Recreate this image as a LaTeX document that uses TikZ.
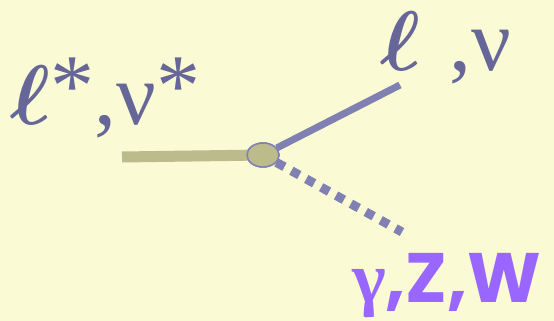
\documentclass[tikz,border=0pt]{standalone}
\usepackage{fontspec}
\usepackage{tikz}
\usetikzlibrary{shapes.geometric, positioning}

\definecolor{bgpale}{RGB}{250,250,212}
\definecolor{labblue}{RGB}{102,102,153}
\definecolor{lineblue}{RGB}{128,128,178}
\definecolor{olive}{RGB}{187,187,140}
\definecolor{bosonpurple}{RGB}{153,102,255}
\newfontfamily\partfont{Liberation Serif}
\newfontfamily\bosonfont{Poppins}
\newcommand{\bigell}{\scalebox{3.4}{\Huge\boldmath$\ell$}}
\newcommand{\upstar}{\raisebox{9pt}{*}}

\begin{document}
\begin{tikzpicture}[
  x=1pt, y=1pt,
  lep/.style={font=\fontsize{88}{88}\selectfont\partfont, text=labblue, inner sep=0pt},
  boson/.style={font=\fontsize{70}{70}\selectfont\bosonfont\bfseries, text=bosonpurple, inner sep=0pt},
  vtx/.style={ellipse, draw=lineblue, line width=1.5pt, fill=olive,
              minimum width=32pt, minimum height=24pt, inner sep=0pt},
  heavy/.style={draw=olive, line width=11pt},
  light/.style={draw=lineblue, line width=7pt},
  gauge/.style={draw=lineblue, line width=9pt, dash pattern=on 9pt off 8pt},
]
\fill[bgpale] (0,0) rectangle (554,321);
\useasboundingbox (0,0) rectangle (554,321);

% vertex and line ends
\node[vtx] (vertex) at (263,166) {};
\coordinate (in)   at (122,164);
\coordinate (lout) at (400,236);
\coordinate (bout) at (402,89);

% lines
\draw[heavy] (in) -- (vertex.center);
\draw[light] (vertex) -- (lout);
\draw[gauge] (vertex) -- (bout);
\node[vtx] at (vertex) {};

% labels
\node[lep, anchor=base west] (instate) at (10,196) {\bigell\upstar,ν\upstar};
\node[lep, anchor=base west] (outlep) at (380,250) {\bigell\hspace{29pt},ν};
\node[boson, anchor=base west] (outbos) at (352,18) {{\fontsize{72}{72}\selectfont\partfont γ},Z,W};
\end{tikzpicture}
\end{document}
